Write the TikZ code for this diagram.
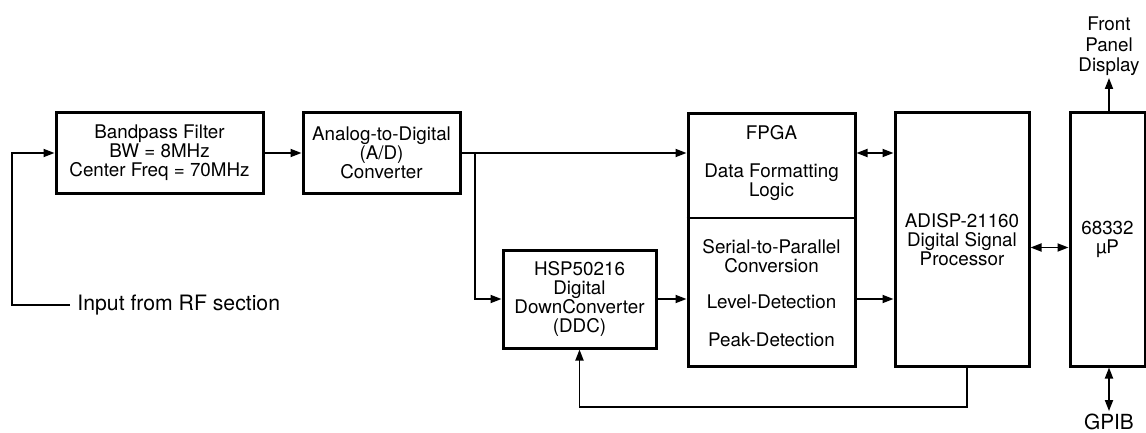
\documentclass[tikz,border=0pt]{standalone}
\usepackage{fontspec}
\setmainfont{TeX Gyre Heros}
\usetikzlibrary{arrows.meta}

\tikzset{
  block/.style={draw, line width=1.5pt, inner sep=0pt, align=center,
    font=\fontsize{9.4}{9.5}\selectfont},
  conn/.style={line width=0.9pt},
  >={Triangle[length=5.5pt,width=4pt]}
}

\begin{document}
\begin{tikzpicture}[x=0.5pt,y=-0.5pt]

    % --- Frame ---
    \useasboundingbox (0,0) rectangle (1146,433);

    % --- Blocks ---
    % Filter and converter on the upper row
    \node[block, minimum width=103.5pt, minimum height=40pt] (bpf) at (159.5,153)
      {Bandpass Filter\\BW = 8MHz\\Center Freq = 70MHz};
    \node[block, minimum width=78.5pt, minimum height=40pt] (adc) at (381.5,153)
      {Analog-to-Digital\\(A/D)\\Converter};

    % Down converter below the split
    \node[block, minimum width=76.5pt, minimum height=49pt] (ddc) at (579.5,299)
      {HSP50216\\Digital\\DownConverter\\(DDC)};

    % Tall blocks on the right
    \node[block, minimum width=83.5pt, minimum height=126pt] (fpga) at (771.5,240) {};
    \node[block, minimum width=67pt, minimum height=126.5pt] (dsp) at (962,239.5)
      {ADISP-21160\\Digital Signal\\Processor};
    \node[block, minimum width=37.5pt, minimum height=126.5pt] (mup) at (1107.5,239.5)
      {68332\\µP};

    % --- FPGA contents ---
    \draw[line width=0.6pt] (fpga.west |- 0,218) -- (fpga.east |- 0,218);
    \node[align=center, font=\fontsize{9.4}{9.5}\selectfont] (fpgatop) at (771.5,163)
      {FPGA\\[9.5pt]Data Formatting\\Logic};
    \node[align=center, font=\fontsize{9.4}{9.5}\selectfont] (fpgabot) at (771.5,293.5)
      {Serial-to-Parallel\\Conversion\\[8.5pt]Level-Detection\\[9.5pt]Peak-Detection};

    % --- Outer labels ---
    \node[anchor=west, inner sep=3.5pt, font=\fontsize{10.6}{12}\selectfont] (inp) at (70,305)
      {Input from RF section};
    \node[anchor=south, inner sep=1pt, align=center, font=\fontsize{9.4}{10.2}\selectfont]
      (disp) at (1109,78) {Front\\Panel\\Display};
    \node[anchor=base, inner sep=1pt, font=\fontsize{10.4}{12}\selectfont] (gpib) at (1109,429)
      {GPIB};

    % --- Turning points ---
    \coordinate (inturn) at (12,305);
    \coordinate (split) at (475,153);
    \coordinate (fbk) at (967,407);

    % --- Connectors ---
    \draw[conn,->] (inp.west) -- (inturn) |- (bpf.west);
    \draw[conn,->] (bpf) -- (adc);
    \draw[conn,->] (adc.east) -- (adc.east -| fpga.west);
    \draw[conn,->] (split) |- (ddc.west);
    \draw[conn,->] (ddc.east) -- (ddc.east -| fpga.west);
    \draw[conn,<->] (fpga.east |- split) -- (dsp.west |- split);
    \draw[conn,->] (fpga.east |- ddc.east) -- (dsp.west |- ddc.east);
    \draw[conn,<->] ([yshift=-4pt]dsp.east) -- ([yshift=-4pt]mup.west);
    \draw[conn,->] (dsp.south -| fbk) -- (fbk) -| (ddc.south);
    \draw[conn,->] (mup.north -| disp.south) -- (disp.south);
    \draw[conn,<->] (mup.south -| gpib.north) -- (gpib.north);

\end{tikzpicture}
\end{document}
